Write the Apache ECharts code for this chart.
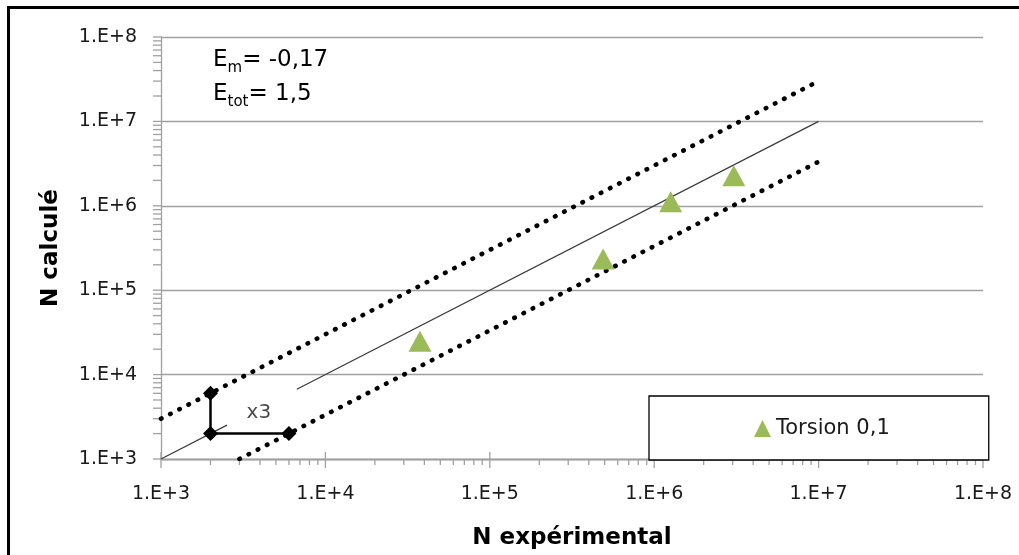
<!DOCTYPE html>
<html>
<head>
<meta charset="utf-8">
<script src="https://cdn.jsdelivr.net/npm/echarts@6/dist/echarts.min.js"></script>
<style>
  html, body { margin: 0; padding: 0; background: #fff; overflow: hidden; }
  #chart { width: 1019px; height: 555px; }
  #frame {
    position: absolute; left: 7px; top: 6px; width: 1100px; height: 700px;
    border-left: 3px solid #000; border-top: 3px solid #000; pointer-events: none;
  }
</style>
</head>
<body>
<div id="chart"></div>
<div id="frame"></div>
<script>
// axes (log, decades)
const decades = [1e3, 1e4, 1e5, 1e6, 1e7, 1e8];
const tickLabels = ['1.E+3', '1.E+4', '1.E+5', '1.E+6', '1.E+7', '1.E+8'];
const minorSteps = [2, 3, 4, 5, 6, 7, 8, 9];

// points
const torsion = [[3.76e4, 2.48e4], [4.89e5, 2.34e5], [1.26e6, 1.12e6], [3.05e6, 2.27e6]];
// y = x, interrupted behind the "x3" label
const diagonalA = [[1e3, 1e3], [2.52e3, 2.52e3]];
const diagonalB = [[6.7e3, 6.7e3], [1e7, 1e7]];
// factor 3 band
const upperBand = [[1e3, 3e3], [9.2e6, 2.76e7]];
const lowerBand = [[3e3, 1e3], [1e7, 3.33e6]];
const factorMarks = [[2e3, 6e3], [2e3, 2e3], [6e3, 2e3]];
const factorLabel = [[3.94e3, 3.5e3]];

const FONT = 'DejaVu Sans';
const GRAY = '#a0a0a0';

// tick marks drawn through the axes: [x, y, major]
const xTickData = [];
const yTickData = [];
decades.forEach((d, i) => {
  xTickData.push([d, 1e3, 1]);
  yTickData.push([1e3, d, 1]);
  if (i < decades.length - 1) {
    minorSteps.forEach(m => {
      xTickData.push([m * d, 1e3, 0]);
      yTickData.push([1e3, m * d, 0]);
    });
  }
});

function tickLabel(v) {
  const i = decades.findIndex(d => Math.abs(d - v) / d < 1e-6);
  return i >= 0 ? tickLabels[i] : '';
}

const chart = echarts.init(document.getElementById('chart'));
const option = {
  backgroundColor: '#fff',
  animation: false,
  grid: { left: 161, right: 36, top: 37, bottom: 95 },
  xAxis: {
    type: 'log', logBase: 10, min: 1e3, max: 1e8,
    name: 'N expérimental', nameLocation: 'middle', nameGap: 68,
    nameTextStyle: { fontFamily: FONT, fontWeight: 'bold', fontSize: 23, color: '#000' },
    axisLine: { lineStyle: { color: GRAY, width: 1.3 } },
    axisTick: { show: false },
    splitLine: { show: false },
    axisLabel: { formatter: tickLabel, margin: 26, fontFamily: FONT, fontSize: 19, color: '#1a1a1a' }
  },
  yAxis: {
    type: 'log', logBase: 10, min: 1e3, max: 1e8,
    name: 'N calculé', nameLocation: 'middle', nameGap: 98,
    nameTextStyle: { fontFamily: FONT, fontWeight: 'bold', fontSize: 23, color: '#000' },
    axisLine: { show: true, lineStyle: { color: GRAY, width: 1.3 } },
    axisTick: { show: false },
    splitLine: { show: true, lineStyle: { color: GRAY, width: 1.3 } },
    axisLabel: { formatter: tickLabel, margin: 24, fontFamily: FONT, fontSize: 19, color: '#1a1a1a' }
  },
  legend: {
    data: [{ name: 'Torsion 0,1', icon: 'triangle' }],
    left: 649, top: 396,
    padding: [22, 99, 21, 105],
    itemWidth: 17, itemHeight: 17,
    borderColor: '#000', borderWidth: 1.3, backgroundColor: '#fff',
    textStyle: { fontFamily: FONT, fontSize: 21, color: '#1a1a1a' }
  },
  graphic: [
    {
      type: 'text', left: 213, top: 49,
      style: {
        text: '{a|E}{b|m}{a|= -0,17}',
        rich: {
          a: { fontFamily: FONT, fontSize: 23, color: '#000', lineHeight: 31 },
          b: { fontFamily: FONT, fontSize: 15, color: '#000', lineHeight: 31, verticalAlign: 'bottom' }
        }
      }
    },
    {
      type: 'text', left: 213, top: 83,
      style: {
        text: '{a|E}{b|tot}{a|= 1,5}',
        rich: {
          a: { fontFamily: FONT, fontSize: 23, color: '#000', lineHeight: 31 },
          b: { fontFamily: FONT, fontSize: 15, color: '#000', lineHeight: 31, verticalAlign: 'bottom' }
        }
      }
    }
  ],
  series: [
    {
      type: 'line', data: diagonalA, symbol: 'none', silent: true,
      lineStyle: { color: '#3a3a3a', width: 1.2 }
    },
    {
      type: 'line', data: diagonalB, symbol: 'none', silent: true,
      lineStyle: { color: '#3a3a3a', width: 1.2 }
    },
    {
      type: 'line', data: upperBand, symbol: 'none', silent: true,
      lineStyle: { color: '#000', width: 4.6, type: [0.5, 9.8], cap: 'round' }
    },
    {
      type: 'line', data: lowerBand, symbol: 'none', silent: true,
      lineStyle: { color: '#000', width: 4.6, type: [0.5, 9.8], cap: 'round' }
    },
    {
      type: 'line', data: factorMarks, symbol: 'diamond', symbolSize: 15, silent: true,
      itemStyle: { color: '#000' },
      lineStyle: { color: '#000', width: 2.5 }
    },
    {
      type: 'scatter', data: factorLabel, symbolSize: 0, silent: true,
      label: {
        show: true, position: 'inside', formatter: 'x3',
        fontFamily: FONT, fontSize: 20, color: '#1a1a1a'
      }
    },
    {
      name: 'Torsion 0,1', type: 'scatter', data: torsion,
      symbol: 'triangle', symbolSize: [23, 21], z: 5,
      itemStyle: { color: '#9bbb59', opacity: 1 }
    },
    {
      type: 'custom', data: xTickData, silent: true, clip: false,
      renderItem: (params, api) => {
        const p = api.coord([api.value(0), api.value(1)]);
        const major = api.value(2) === 1;
        return {
          type: 'line',
          shape: { x1: p[0], y1: p[1] + (major ? -7 : 0), x2: p[0], y2: p[1] + (major ? 9 : 6) },
          style: { stroke: GRAY, lineWidth: 1.3 }
        };
      }
    },
    {
      type: 'custom', data: yTickData, silent: true, clip: false,
      renderItem: (params, api) => {
        const p = api.coord([api.value(0), api.value(1)]);
        return {
          type: 'line',
          shape: { x1: p[0] - 8, y1: p[1], x2: p[0], y2: p[1] },
          style: { stroke: GRAY, lineWidth: 1.3 }
        };
      }
    }
  ]
};
chart.setOption(option);
</script>
</body>
</html>
